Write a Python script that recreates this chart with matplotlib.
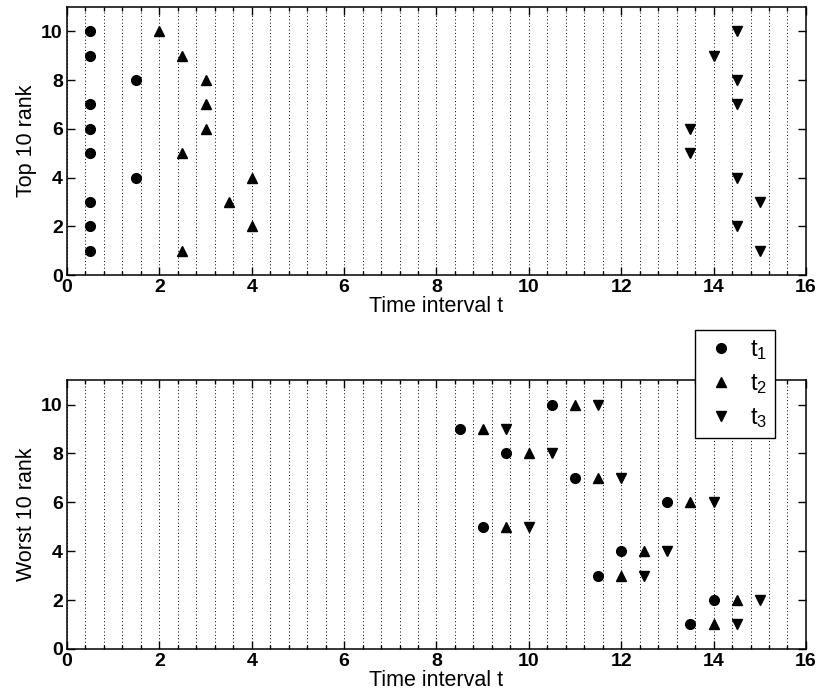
import numpy as np
import matplotlib.pyplot as plt
from matplotlib.ticker import MultipleLocator

# top 10 rank data
top_t1_x = [0.5, 0.5, 1.5, 0.5, 0.5, 0.5, 1.5, 0.5, 0.5, 0.5]
top_t1_y = [10, 9, 8, 7, 6, 5, 4, 3, 2, 1]
top_t2_x = [2, 2.5, 3, 3, 3, 2.5, 4, 3.5, 4, 2.5]
top_t2_y = [10, 9, 8, 7, 6, 5, 4, 3, 2, 1]
top_t3_x = [14.5, 14, 14.5, 14.5, 13.5, 13.5, 14.5, 15, 14.5, 15]
top_t3_y = [10, 9, 8, 7, 6, 5, 4, 3, 2, 1]

# worst 10 rank data
worst_t1_x = [10.5, 8.5, 9.5, 11, 13, 9, 12, 11.5, 14, 13.5]
worst_t1_y = [10, 9, 8, 7, 6, 5, 4, 3, 2, 1]
worst_t2_x = [11, 9, 10, 11.5, 13.5, 9.5, 12.5, 12, 14.5, 14]
worst_t2_y = [10, 9, 8, 7, 6, 5, 4, 3, 2, 1]
worst_t3_x = [11.5, 9.5, 10.5, 12, 14, 10, 13, 12.5, 15, 14.5]
worst_t3_y = [10, 9, 8, 7, 6, 5, 4, 3, 2, 1]

labels = ['$\\mathregular{t_1}$', '$\\mathregular{t_2}$', '$\\mathregular{t_3}$']

plt.rcParams['font.family'] = ['Liberation Sans', 'DejaVu Sans']
plt.rcParams['mathtext.fontset'] = 'custom'
plt.rcParams['mathtext.rm'] = 'Liberation Sans'


def style_axes(ax, ylabel):
    ax.set_xlim(0, 16)
    ax.set_ylim(0, 11)
    ax.xaxis.set_major_locator(MultipleLocator(2))
    ax.xaxis.set_minor_locator(MultipleLocator(0.4))
    ax.yaxis.set_major_locator(MultipleLocator(2))
    ax.tick_params(which='both', direction='in', top=True, right=True,
                   width=1, labelsize=14, pad=3)
    ax.tick_params(which='major', length=6)
    ax.tick_params(which='minor', length=3)
    for lab in ax.get_xticklabels() + ax.get_yticklabels():
        lab.set_fontweight('bold')
    ax.grid(True, which='both', axis='x', linestyle=(0, (1, 2.5)),
            color='black', linewidth=0.7)
    for sp in ax.spines.values():
        sp.set_linewidth(1.1)
    ax.set_xlabel('Time interval t', fontsize=15.5, labelpad=0)
    ax.set_ylabel(ylabel, fontsize=15.5, labelpad=3)


fig = plt.figure(figsize=(8.16, 7), dpi=100)
ax1 = fig.add_axes([0.0821, 0.607, 0.9056, 0.383])
ax2 = fig.add_axes([0.0821, 0.073, 0.9056, 0.384])

ms = 7.5
ax1.plot(top_t1_x, top_t1_y, 'ko', ms=ms - 0.5, linestyle='none')
ax1.plot(top_t2_x, top_t2_y, 'k^', ms=ms, linestyle='none')
ax1.plot(top_t3_x, top_t3_y, 'kv', ms=ms, linestyle='none')
style_axes(ax1, 'Top 10 rank')

h1, = ax2.plot(worst_t1_x, worst_t1_y, 'ko', ms=ms - 0.5, linestyle='none')
h2, = ax2.plot(worst_t2_x, worst_t2_y, 'k^', ms=ms, linestyle='none')
h3, = ax2.plot(worst_t3_x, worst_t3_y, 'kv', ms=ms, linestyle='none')
style_axes(ax2, 'Worst 10 rank')

leg = fig.legend([h1, h2, h3], labels, loc='upper right',
                 bbox_to_anchor=(0.9498, 0.5286), borderaxespad=0,
                 fontsize=17, fancybox=False, framealpha=1,
                 edgecolor='black', borderpad=0.35, labelspacing=0.42,
                 handletextpad=0.45, handlelength=1.5)
leg.get_frame().set_linewidth(1.0)

plt.savefig('out.png', dpi=100)
